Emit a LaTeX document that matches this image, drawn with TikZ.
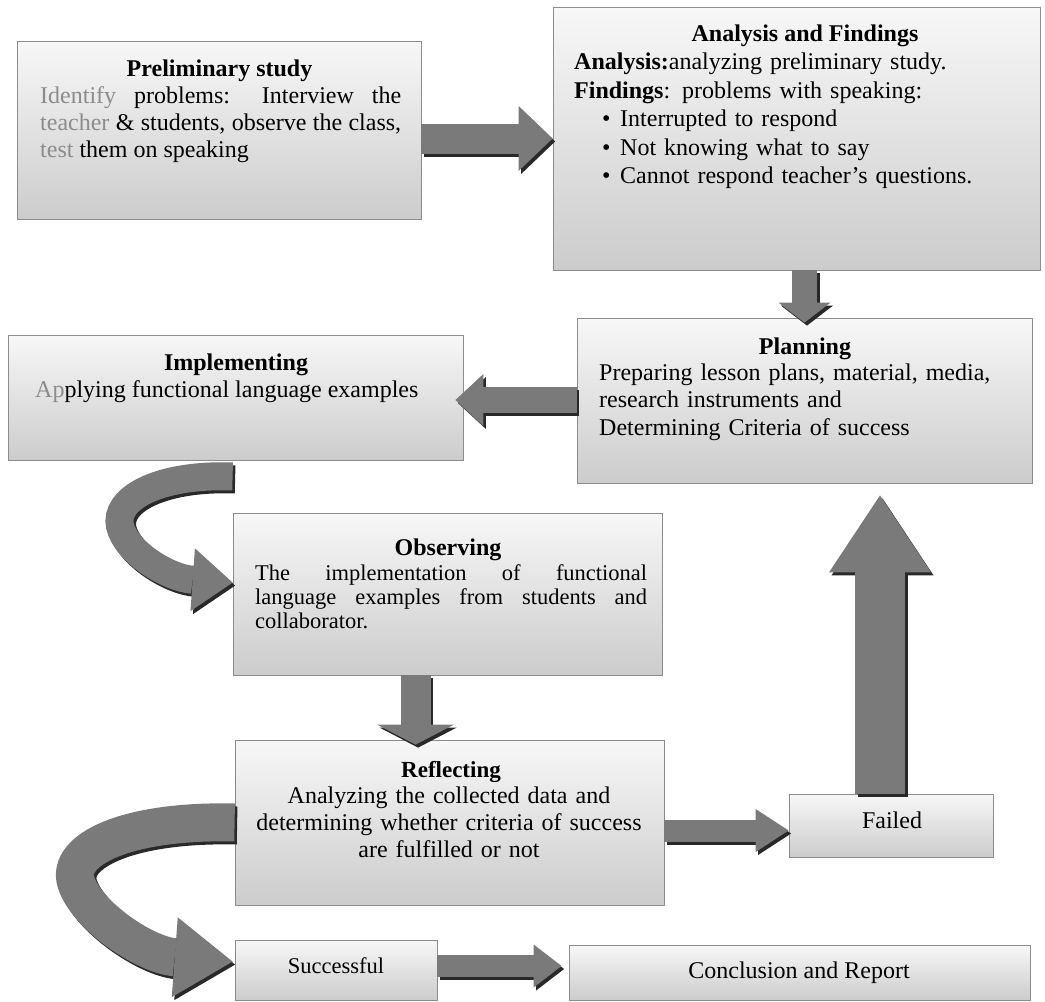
\documentclass[tikz,border=0pt]{standalone}
\usepackage{fontspec}
\setmainfont{Liberation Serif}
\usetikzlibrary{arrows.meta,calc}
\definecolor{boxtop}{gray}{0.97}
\definecolor{boxbot}{gray}{0.80}
\definecolor{boxline}{gray}{0.55}
\definecolor{arrowgray}{gray}{0.48}
\definecolor{arrowdark}{gray}{0.16}
\definecolor{fade}{gray}{0.55}
\newcommand\blockarr[4]{%
  \draw[line width=#2, draw=arrowdark, -{Triangle[width=#3,length=#4,line width=0pt]},
        transform canvas={shift={(2.5pt,-3pt)}}] #1;
  \draw[line width=#2, draw=arrowgray, -{Triangle[width=#3,length=#4,line width=0pt]}] #1;}
\begin{document}
\begin{tikzpicture}[x=1pt,y=-1pt,
  box/.style={draw=boxline, line width=0.8pt, top color=boxtop, bottom color=boxbot, inner sep=0pt},
  ttl/.style={font=\fontsize{24}{27}\selectfont\bfseries, anchor=base, inner sep=0pt},
  ttls/.style={font=\fontsize{23}{27}\selectfont\bfseries, anchor=base, inner sep=0pt},
  body/.style={font=\fontsize{24}{27}\selectfont, inner sep=0pt},
  bodys/.style={font=\fontsize{22.5}{24}\selectfont, inner sep=0pt}]
\useasboundingbox (0,0) rectangle (1045,1002);
% boxes
\node[box, minimum width=404pt, minimum height=178pt] (pre) at (219,130) {};
\node[box, minimum width=487pt, minimum height=263pt] (ana) at (796.5,138.5) {};
\node[box, minimum width=455pt, minimum height=165pt] (plan) at (804.5,400.5) {};
\node[box, minimum width=455pt, minimum height=125pt] (impl) at (235.5,397.5) {};
\node[box, minimum width=429pt, minimum height=162pt] (obs) at (447.5,594) {};
\node[box, minimum width=429pt, minimum height=165pt] (refl) at (449.5,822.5) {};
\node[box, minimum width=204pt, minimum height=63pt] (failed) at (891,825.5) {};
\node[box, minimum width=202pt, minimum height=60pt] (succ) at (336,970) {};
\node[box, minimum width=461pt, minimum height=55pt] (concl) at (799.5,972.5) {};
% texts
\node[ttl] (pret) at (219.5,76) {Preliminary study};
\node[body, anchor=base west, text width=361pt, align=justify] (preb) at (40,103)
  {\textcolor{fade}{Identify} problems: Interview the\linebreak
   \textcolor{fade}{teacher} \& students, observe the class,\linebreak
   \textcolor{fade}{test} them on speaking};
\node[ttl] (anat) at (805,41) {Analysis and Findings};
\node[body, font=\fontsize{24}{28.5}\selectfont, anchor=base west, text width=460pt, align=left] (anab) at (574,69.5)
  {\textbf{Analysis:}analyzing preliminary study.\\
   \textbf{Findings}: problems with speaking:\\
   \hspace*{28pt}\makebox[18pt][l]{\textbullet}Interrupted to respond\\
   \hspace*{28pt}\makebox[18pt][l]{\textbullet}Not knowing what to say\\
   \hspace*{28pt}\makebox[18pt][l]{\textbullet}Cannot respond teacher’s questions.};
\node[ttl] (plant) at (805,354) {Planning};
\node[body, font=\fontsize{24}{27.5}\selectfont, anchor=base west, text width=430pt, align=left] (planb) at (599,380)
  {Preparing lesson plans, material, media,\\
   research instruments and\\
   Determining Criteria of success};
\node[ttl] (implt) at (236,370) {Implementing};
\node[body, anchor=base west] (implb) at (35,397)
  {\textcolor{fade}{Ap}plying functional language examples};
\node[ttl] (obst) at (448,555) {Observing};
\node[bodys, anchor=base west, text width=392pt, align=justify] (obsb) at (255,580)
  {The implementation of functional\linebreak
   language examples from students and\linebreak
   collaborator.};
\node[ttls] (reflt) at (451,777) {Reflecting};
\node[body, anchor=base, text width=420pt, align=center] (reflb) at (449,803)
  {Analyzing the collected data and\\
   determining whether criteria of success\\
   are fulfilled or not};
\node[body, anchor=base] (failedt) at (892,828) {Failed};
\node[body, font=\fontsize{22.5}{27}\selectfont, anchor=base] (succt) at (336,973) {Successful};
\node[body, anchor=base] (conclt) at (799,978) {Conclusion and Report};
% connector end points
\coordinate (o2r) at ($(obs.south west)+(183,0)$);
\coordinate (f2p) at ($(failed.north)+(-11,0)$);
\coordinate (r1s) at ($(obs.north west |- impl.south)+(0,16)$);
\coordinate (r1e) at ($(obs.north west)+(0,70)$);
\coordinate (r2s) at (refl.west);
\coordinate (r2e) at ($(succ.north west)+(-2,22)$);
% straight block arrows
\blockarr{(pre.east |- ana.west) -- (ana.west)}{30pt}{65pt}{34pt}
\blockarr{(plan.north |- ana.south) -- ($(plan.north)+(0,5)$)}{25pt}{52pt}{20pt}
\blockarr{($(plan.west)+(0,-0.5)$) -- ($(impl.east |- plan.west)+(-8,-0.5)$)}{26pt}{52pt}{28pt}
\blockarr{(o2r) -- ($(o2r |- refl.north)+(0,5)$)}{30pt}{77pt}{20pt}
\blockarr{($(refl.east)+(0,8)$) -- ($(failed.west |- refl.east)+(0,8)$)}{22pt}{43pt}{33pt}
\blockarr{(f2p) -- ($(f2p |- plan.south)+(0,12)$)}{50pt}{102pt}{77pt}
\blockarr{($(succ.east)+(0,-4)$) -- ($(concl.west |- succ.east)+(-7,-4)$)}{22pt}{43pt}{28pt}
% curved ribbons
\blockarr{(r1s) .. controls (155,474) and (114,500) .. (120,526) .. controls (126,552) and (168,578) .. (r1e)}{28pt}{63pt}{40pt}
\blockarr{(r2s) .. controls (125,820) and (66,850) .. (76,882) .. controls (86,915) and (145,955) .. (r2e)}{38pt}{80pt}{58pt}
\end{tikzpicture}
\end{document}
